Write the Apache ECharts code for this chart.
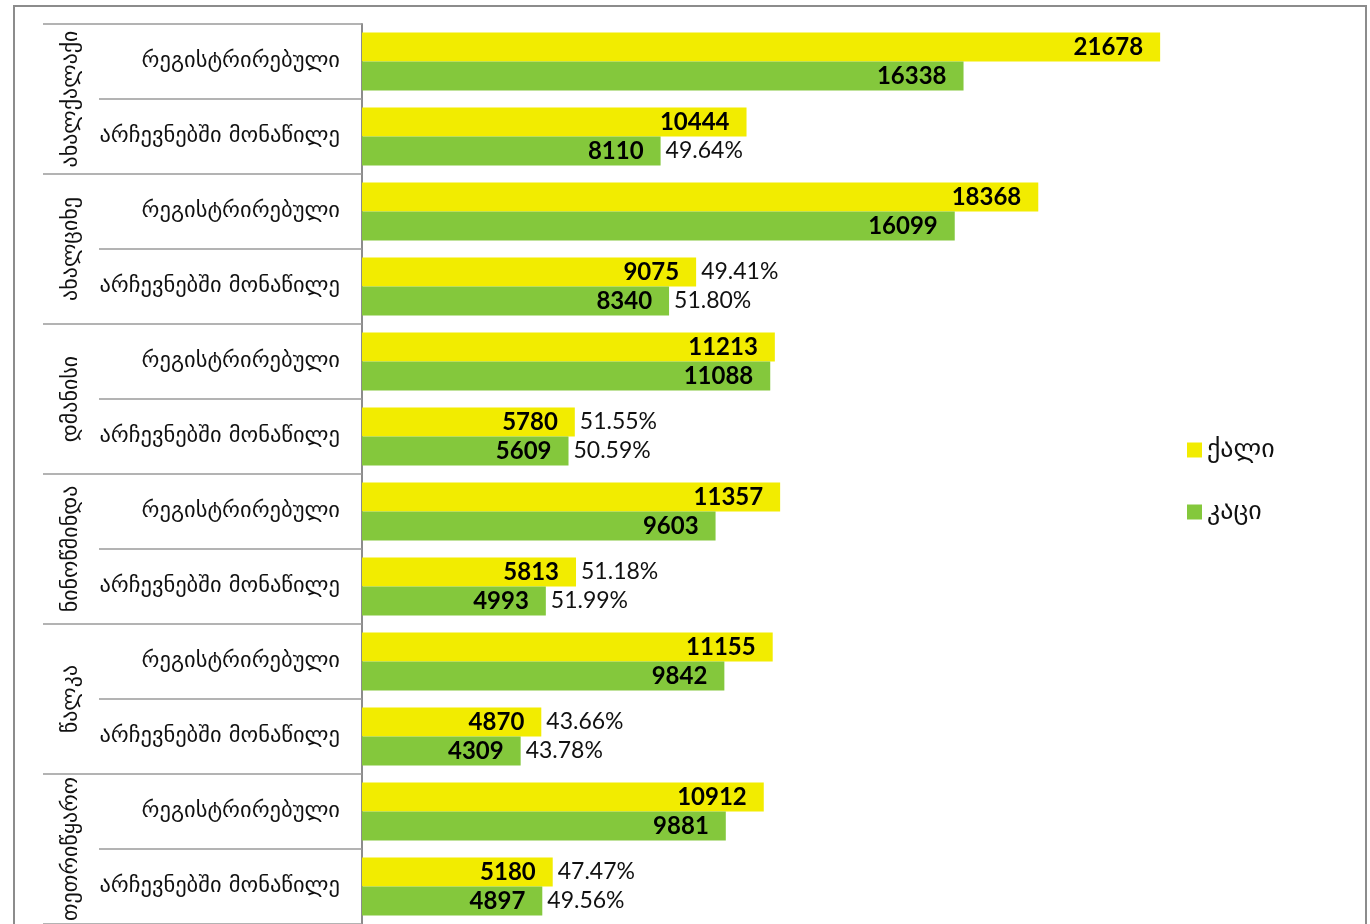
<!DOCTYPE html>
<html lang="ka">
  <head>
    <meta charset="UTF-8" />
    <title>chart</title>
    <script src="https://cdn.jsdelivr.net/npm/echarts@6/dist/echarts.min.js"></script>
    <style>
      html, body { margin: 0; padding: 0; background: #fff; }
      #box { width: 1370px; height: 924px; }
    </style>
  </head>
  <body>
    <div id="box"></div>
    <script>
      // რეგიონები და ქვეკატეგორიები
      const groups = ["ახალქალაქი", "ახალციხე", "დმანისი", "ნინოწმინდა", "წალკა", "თეთრიწყარო"];
      const subs = [
        "რეგისტრირებული", "არჩევნებში მონაწილე",
        "რეგისტრირებული", "არჩევნებში მონაწილე",
        "რეგისტრირებული", "არჩევნებში მონაწილე",
        "რეგისტრირებული", "არჩევნებში მონაწილე",
        "რეგისტრირებული", "არჩევნებში მონაწილე",
        "რეგისტრირებული", "არჩევნებში მონაწილე"
      ];
      const female = [21678, 10444, 18368, 9075, 11213, 5780, 11357, 5813, 11155, 4870, 10912, 5180];
      const male = [16338, 8110, 16099, 8340, 11088, 5609, 9603, 4993, 9842, 4309, 9881, 4897];
      const femalePct = [null, null, null, "49.41%", null, "51.55%", null, "51.18%", null, "43.66%", null, "47.47%"];
      const malePct = [null, "49.64%", null, "51.80%", null, "50.59%", null, "51.99%", null, "43.78%", null, "49.56%"];

      const geoFont = "DejaVu Sans";
      const numFont = "Lato";

      var chart = echarts.init(document.getElementById("box"));

      // ნულოვანი ბარი პროცენტის ლეიბლისთვის (ბარის ბოლოში)
      function pctSeries(name, stack, pcts) {
        return {
          name: name,
          type: "bar",
          stack: stack,
          barWidth: 29,
          data: pcts.map((p) => (p ? 0 : "-")),
          itemStyle: { color: "transparent" },
          label: {
            show: true,
            position: "right",
            distance: 5,
            color: "#111",
            fontFamily: numFont,
            fontSize: 23,
            formatter: (p) => pcts[p.dataIndex] || "",
          },
          silent: true,
        };
      }

      var option = {
        animation: false,
        graphic: [
          {
            type: "rect",
            shape: { x: 14, y: 6, width: 1352, height: 940 },
            style: { fill: "none", stroke: "#8c8c8c", lineWidth: 2 },
            silent: true,
          },
        ],
        legend: {
          data: ["ქალი", "კაცი"],
          orient: "vertical",
          left: 1182,
          top: 432,
          icon: "rect",
          itemWidth: 15,
          itemHeight: 15,
          itemGap: 36,
          textStyle: { fontFamily: geoFont, fontSize: 26, color: "#111" },
        },
        grid: {
          left: 362,
          right: 198,
          top: 24,
          bottom: 0,
          containLabel: false,
          outerBoundsMode: "none",
        },
        xAxis: {
          type: "value",
          min: 0,
          max: 22000,
          show: false,
        },
        yAxis: [
          {
            type: "category",
            data: subs,
            inverse: true,
            position: "left",
            axisLine: { show: true, lineStyle: { color: "#8c8c8c", width: 2 } },
            axisTick: { show: true, interval: 0, length: 263, lineStyle: { color: "#9a9a9a", width: 1.5 } },
            axisLabel: { interval: 0, margin: 22, fontFamily: geoFont, fontSize: 22.5, color: "#111" },
          },
          {
            type: "category",
            data: groups,
            inverse: true,
            position: "left",
            axisLine: { show: false },
            axisTick: { show: true, interval: 0, length: 319, lineStyle: { color: "#9a9a9a", width: 1.5 } },
            axisLabel: { interval: 0, rotate: 90, margin: 280, fontFamily: geoFont, fontSize: 22, color: "#111" },
          },
        ],
        series: [
          {
            name: "ქალი",
            type: "bar",
            stack: "f",
            barWidth: 29,
            barGap: "0%",
            data: female,
            itemStyle: { color: "#f2ec00" },
            label: {
              show: true,
              position: "insideRight",
              distance: 17,
              color: "#000",
              fontFamily: numFont,
              fontWeight: "bold",
              fontSize: 24,
            },
          },
          {
            name: "კაცი",
            type: "bar",
            stack: "m",
            barWidth: 29,
            barGap: "0%",
            data: male,
            itemStyle: { color: "#84c83c" },
            label: {
              show: true,
              position: "insideRight",
              distance: 17,
              color: "#000",
              fontFamily: numFont,
              fontWeight: "bold",
              fontSize: 24,
            },
          },
          pctSeries("ქალი %", "f", femalePct),
          pctSeries("კაცი %", "m", malePct),
        ],
      };
      option && chart.setOption(option);
    </script>
  </body>
</html>
